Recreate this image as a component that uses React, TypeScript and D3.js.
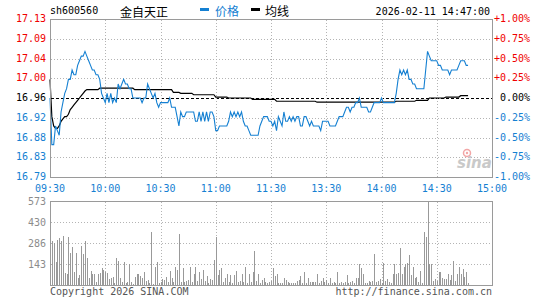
import React from 'react'
import * as d3 from 'd3'

// 金自天正 sh600560 分时图
const preClose = 16.96
const volMax = 573

const timeLabels = ['09:30', '10:00', '10:30', '11:00', '11:30', '13:30', '14:00', '14:30', '15:00']
const priceLabels = ['17.13', '17.09', '17.04', '17.00', '16.96', '16.92', '16.88', '16.83', '16.79']
const pctLabels = ['+1.00%', '+0.75%', '+0.50%', '+0.25%', '0.00%', '-0.25%', '-0.50%', '-0.75%', '-1.00%']
const volLabels = ['573', '430', '286', '143']

// one value per minute, 09:30 .. 14:47
const prices = [
  16.96, 16.86, 16.86, 16.90, 16.89, 16.88, 16.93, 16.95, 16.97, 16.98,
  17.00, 17.00, 17.02, 17.01, 17.01, 17.03, 17.04, 17.05, 17.05, 17.06,
  17.05, 17.04, 17.03, 17.02, 17.02, 17.01, 17.01, 17.00, 16.97, 16.96,
  16.95, 16.97, 16.95, 16.97, 16.95, 16.96, 16.95, 16.99, 16.98, 16.99,
  17.00, 16.99, 16.99, 16.98, 16.98, 16.96, 16.96, 16.96, 16.96, 16.96,
  16.95, 16.96, 16.96, 16.99, 16.98, 16.97, 16.96, 16.97, 16.95, 16.94,
  16.95, 16.95, 16.95, 16.95, 16.95, 16.96, 16.94, 16.94, 16.94, 16.92,
  16.90, 16.93, 16.92, 16.92, 16.93, 16.93, 16.93, 16.93, 16.93, 16.91,
  16.91, 16.93, 16.91, 16.93, 16.91, 16.93, 16.91, 16.93, 16.93, 16.92,
  16.89, 16.89, 16.90, 16.90, 16.90, 16.90, 16.90, 16.91, 16.93, 16.92,
  16.93, 16.92, 16.93, 16.92, 16.93, 16.91, 16.90, 16.90, 16.89, 16.88,
  16.88, 16.88, 16.88, 16.88, 16.90, 16.91, 16.92, 16.92, 16.92, 16.91,
  16.91, 16.90, 16.91, 16.89, 16.92, 16.91, 16.90, 16.93, 16.91, 16.91,
  16.92, 16.91, 16.92, 16.91, 16.92, 16.92, 16.90, 16.90, 16.92, 16.92,
  16.91, 16.90, 16.91, 16.90, 16.90, 16.90, 16.90, 16.89, 16.91, 16.91,
  16.91, 16.91, 16.90, 16.90, 16.90, 16.90, 16.91, 16.92, 16.92, 16.92,
  16.93, 16.94, 16.94, 16.93, 16.94, 16.94, 16.95, 16.95, 16.96, 16.94,
  16.94, 16.94, 16.94, 16.93, 16.93, 16.94, 16.95, 16.95, 16.95, 16.95,
  16.96, 16.95, 16.95, 16.95, 16.95, 16.95, 16.95, 16.95, 16.97, 17.00,
  17.02, 17.01, 17.02, 17.01, 17.02, 17.00, 17.00, 16.99, 16.99, 16.98,
  16.98, 16.98, 16.98, 16.98, 17.02, 17.06, 17.05, 17.04, 17.04, 17.04,
  17.04, 17.03, 17.03, 17.02, 17.02, 17.02, 17.02, 17.01, 17.02, 17.02,
  17.02, 17.02, 17.03, 17.04, 17.04, 17.04, 17.03, 17.03,
]

const avgPrices = [
  17.000, 16.920, 16.900, 16.895, 16.895, 16.900, 16.910, 16.915, 16.920, 16.920,
  16.925, 16.935, 16.940, 16.945, 16.950, 16.955, 16.960, 16.965, 16.970, 16.975,
  16.978, 16.978, 16.978, 16.978, 16.978, 16.978, 16.978, 16.981, 16.981, 16.981,
  16.981, 16.981, 16.981, 16.981, 16.981, 16.981, 16.981, 16.981, 16.981, 16.981,
  16.981, 16.981, 16.981, 16.981, 16.981, 16.981, 16.978, 16.978, 16.978, 16.978,
  16.978, 16.978, 16.978, 16.978, 16.978, 16.978, 16.978, 16.978, 16.978, 16.978,
  16.978, 16.978, 16.978, 16.978, 16.978, 16.978, 16.978, 16.972, 16.972, 16.972,
  16.972, 16.970, 16.970, 16.970, 16.970, 16.970, 16.970, 16.970, 16.967, 16.967,
  16.967, 16.967, 16.967, 16.967, 16.967, 16.967, 16.967, 16.967, 16.967, 16.967,
  16.962, 16.962, 16.962, 16.962, 16.962, 16.962, 16.962, 16.960, 16.960, 16.960,
  16.960, 16.960, 16.960, 16.960, 16.960, 16.960, 16.960, 16.960, 16.960, 16.960,
  16.957, 16.957, 16.957, 16.957, 16.957, 16.957, 16.957, 16.957, 16.957, 16.957,
  16.957, 16.957, 16.957, 16.953, 16.953, 16.953, 16.953, 16.953, 16.953, 16.953,
  16.953, 16.953, 16.953, 16.953, 16.953, 16.953, 16.953, 16.953, 16.953, 16.953,
  16.953, 16.953, 16.953, 16.953, 16.953, 16.951, 16.951, 16.951, 16.951, 16.951,
  16.951, 16.951, 16.951, 16.951, 16.951, 16.951, 16.951, 16.951, 16.951, 16.951,
  16.951, 16.951, 16.951, 16.951, 16.951, 16.951, 16.951, 16.951, 16.951, 16.951,
  16.951, 16.951, 16.951, 16.951, 16.951, 16.951, 16.951, 16.951, 16.951, 16.951,
  16.951, 16.951, 16.951, 16.951, 16.951, 16.951, 16.951, 16.951, 16.953, 16.953,
  16.953, 16.953, 16.953, 16.953, 16.953, 16.953, 16.953, 16.953, 16.953, 16.955,
  16.955, 16.955, 16.955, 16.955, 16.955, 16.955, 16.960, 16.960, 16.960, 16.960,
  16.960, 16.960, 16.960, 16.960, 16.960, 16.962, 16.962, 16.962, 16.962, 16.962,
  16.962, 16.962, 16.962, 16.965, 16.965, 16.965, 16.965, 16.965,
]

const volumes = [
  41, 300, 284, 155, 307, 323, 300, 334, 84, 75,
  325, 220, 261, 91, 218, 45, 68, 266, 211, 300,
  186, 45, 95, 77, 73, 23, 77, 84, 114, 102,
  91, 80, 41, 45, 57, 11, 184, 164, 45, 18,
  155, 11, 23, 143, 18, 5, 57, 73, 75, 64,
  45, 86, 27, 34, 11, 359, 5, 123, 159, 11,
  18, 39, 32, 57, 18, 95, 50, 18, 123, 102,
  348, 23, 118, 23, 27, 32, 123, 18, 73, 123,
  27, 91, 41, 102, 27, 64, 11, 41, 34, 170,
  330, 68, 102, 118, 23, 45, 73, 23, 68, 11,
  68, 95, 18, 27, 73, 18, 125, 11, 73, 23,
  91, 232, 27, 73, 11, 32, 50, 18, 11, 23,
  27, 114, 64, 75, 11, 11, 11, 45, 34, 18,
  11, 11, 11, 11, 27, 34, 64, 11, 86, 11,
  45, 18, 18, 18, 18, 75, 11, 27, 45, 18,
  34, 11, 45, 11, 23, 11, 86, 11, 23, 11,
  18, 68, 11, 18, 27, 11, 50, 45, 141, 114,
  73, 11, 11, 27, 18, 27, 211, 18, 27, 41,
  11, 148, 27, 41, 18, 11, 73, 141, 73, 80,
  255, 73, 125, 141, 148, 205, 68, 125, 50, 57,
  18, 95, 11, 364, 330, 573, 141, 141, 27, 41,
  27, 91, 91, 50, 41, 41, 73, 34, 68, 164,
  27, 73, 125, 73, 109, 57, 91, 11,
]

const mono = '"DejaVu Sans Mono", monospace'
const cjk = '"Noto Sans CJK SC", sans-serif'
const RED = '#f00000'
const BLUE = '#1580d2'
const GRID = '#b4b4b4'
const BORDER = '#9a9a9a'

export default function App() {
  const x = d3.scaleLinear().domain([0, 240]).range([50, 492])
  const y = d3.scaleLinear().domain([preClose * 0.99, preClose * 1.01]).range([177, 19])
  const yv = d3.scaleLinear().domain([0, volMax]).range([285, 201])
  const c = (v: number) => Math.round(v) + 0.5

  const levels = priceLabels.map((_, i) => preClose * (1 + (4 - i) * 0.0025))
  const times = timeLabels.map((_, i) => i * 30)
  const volTicks = volLabels.map((_, i) => volMax * (4 - i) / 4)
  const labelColor = (i: number) => (i < 4 ? RED : i === 4 ? '#000' : BLUE)

  const priceLine = d3.line<number>().x((_, i) => x(i)).y((d) => y(d))
  const avgLine = d3.line<number>().x((_, i) => x(i)).y((d) => y(d))

  const x0 = c(x(0)), x1 = c(x(240))

  return (
    <svg width={545} height={300} style={{ position: 'absolute', left: 0, top: 0, background: '#fff' }}>
      {/* header */}
      <text x={50} y={14} fontFamily={mono} fontSize={10} fill="#000">sh600560</text>
      <text x={120} y={17} fontFamily={cjk} fontSize={12} fill="#000">金自天正</text>
      <rect x={200} y={8} width={9} height={3} fill={BLUE} />
      <text x={215} y={16} fontFamily={cjk} fontSize={12} fill={BLUE}>价格</text>
      <rect x={251} y={8} width={9} height={3} fill="#000" />
      <text x={265} y={16} fontFamily={cjk} fontSize={12} fill="#000">均线</text>
      <text x={490} y={15} fontFamily={mono} fontSize={10} fill="#000" textAnchor="end">2026-02-11 14:47:00</text>

      {/* price grid */}
      <g shapeRendering="crispEdges">
        {levels.slice(1, 8).map((v, i) => (
          <line key={'h' + i} x1={x0} x2={x1} y1={c(y(v))} y2={c(y(v))}
            stroke={i + 1 === 4 ? '#000' : GRID}
            strokeDasharray={i + 1 === 4 ? '3,2' : '1,2'} />
        ))}
        {times.slice(1, 8).map((t, i) => (
          <line key={'v' + i} x1={c(x(t))} x2={c(x(t))} y1={c(y(levels[0]))} y2={c(y(levels[8]))}
            stroke={GRID} strokeDasharray="1,2" />
        ))}
        {volTicks.slice(1).map((v, i) => (
          <line key={'vh' + i} x1={x0} x2={x1} y1={c(yv(v))} y2={c(yv(v))} stroke={GRID} strokeDasharray="1,2" />
        ))}
        {times.slice(1, 8).map((t, i) => (
          <line key={'vv' + i} x1={c(x(t))} x2={c(x(t))} y1={c(yv(volMax))} y2={c(yv(0))}
            stroke={GRID} strokeDasharray="1,2" />
        ))}
      </g>

      {/* sina watermark */}
      <circle cx={467} cy={153} r={3.5} fill="none" stroke="#f2a6a6" strokeWidth={1.5} />
      <circle cx={467} cy={153} r={1.2} fill="#f2a6a6" />
      <text x={457} y={168} fontFamily='"DejaVu Sans", sans-serif' fontSize={15} fontWeight="bold"
        fontStyle="italic" fill="#c9c9c9">sina</text>

      {/* volume bars */}
      <g shapeRendering="crispEdges">
        {volumes.map((v, i) => (
          <line key={i} x1={c(x(i))} x2={c(x(i))} y1={yv(0)} y2={yv(v)} stroke="#999" />
        ))}
      </g>

      {/* lines */}
      <path d={avgLine(avgPrices) ?? ''} fill="none" stroke="#000" strokeWidth={1.2} />
      <path d={priceLine(prices) ?? ''} fill="none" stroke={BLUE} strokeWidth={1.1} />

      {/* borders */}
      <g shapeRendering="crispEdges" fill="none" stroke={BORDER}>
        <rect x={x0} y={c(y(levels[0]))} width={x1 - x0} height={c(y(levels[8])) - c(y(levels[0]))} />
        <rect x={x0} y={c(yv(volMax))} width={x1 - x0} height={c(yv(0)) - c(yv(volMax))} />
      </g>

      {/* axis labels */}
      {levels.map((v, i) => (
        <text key={'pl' + i} x={46} y={y(v) + 3} fontFamily={mono} fontSize={10}
          fill={labelColor(i)} textAnchor="end">{priceLabels[i]}</text>
      ))}
      {levels.map((v, i) => (
        <text key={'pr' + i} x={530} y={y(v) + 3} fontFamily={mono} fontSize={10}
          fill={labelColor(i)} textAnchor="end">{pctLabels[i]}</text>
      ))}
      {times.map((t, i) => (
        <text key={'t' + i} x={x(t)} y={192} fontFamily={mono} fontSize={10}
          fill={BLUE} textAnchor="middle">{timeLabels[i]}</text>
      ))}
      {volTicks.map((v, i) => (
        <text key={'vl' + i} x={46} y={yv(v) + 3.5} fontFamily={mono} fontSize={10}
          fill="#8c8c8c" textAnchor="end">{volLabels[i]}</text>
      ))}

      {/* footer */}
      <text x={50} y={295} fontFamily={mono} fontSize={10} fill="#555">Copyright 2026 SINA.COM</text>
      <text x={492} y={295} fontFamily={mono} fontSize={10} fill="#555" textAnchor="end">http://finance.sina.com.cn</text>
    </svg>
  )
}
